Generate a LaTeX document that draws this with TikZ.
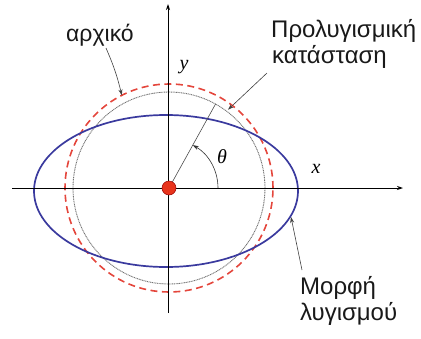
\documentclass[tikz,border=0pt]{standalone}
\usepackage{fontspec}
\setmainfont{Liberation Sans}
\newfontfamily\serifit{Liberation Serif}
\usetikzlibrary{arrows.meta,calc}
\definecolor{redc}{HTML}{E4463C}
\definecolor{bluec}{HTML}{3A3A9E}
\definecolor{dotred}{HTML}{E8341C}
\tikzset{
  axis/.style={line width=0.9pt, -{Stealth[length=6pt,width=4pt]}},
  leader/.style={line width=0.6pt, draw=black!75, -{Stealth[length=6pt,width=4pt]}},
  lbl/.style={font=\fontsize{24}{27}\selectfont, text=black!90, inner sep=0pt, anchor=base west},
  var/.style={font=\serifit\itshape\fontsize{20}{22}\selectfont, inner sep=0pt},
}
\begin{document}
\begin{tikzpicture}[x=1pt,y=1pt]
\useasboundingbox (0,0) rectangle (421,-338);
\coordinate (O) at (169,-188);
% curves
\draw[black!55, line width=0.9pt, dash pattern=on 1pt off 0.7pt] (O) circle[radius=96];
\draw[redc, line width=1.6pt, dash pattern=on 7pt off 4.5pt] (O) circle[radius=104];
\draw[bluec, line width=1.7pt] (166,-191) ellipse[x radius=132, y radius=76];
% axes
\coordinate (xa0) at (12,-188);
\coordinate (xa1) at (403,-188);
\coordinate (ya0) at (168,-313);
\coordinate (ya1) at (168,-4);
\draw[axis] (xa0) -- (xa1);
\draw[axis] (ya0) -- (ya1);
% radius and angle
\coordinate (R) at ($(O)+(61:96)$);
\draw[black!70, line width=0.6pt] (O) -- (R);
\draw[line width=0.6pt, black!80, -{Stealth[length=6pt,width=4pt]}] ($(O)+(49,0)$) arc[start angle=0, end angle=61, radius=49];
% origin dot
\fill[dotred, draw=red!60!black, line width=0.5pt] (O) circle[radius=7];
% labels
\node[var] (xl) at (316,-169) {x};
\node[var] (yl) at (184,-67) {y};
\node[var] (tl) at (222,-157) {θ};
\node[lbl, font=\fontsize{23}{26}\selectfont] (arx) at (66,-41) {αρχικό};
\node[lbl] (pro1) at (271,-37) {Προλυγισμική};
\node[lbl] (pro2) at (272,-63) {κατάσταση};
\node[lbl] (mor1) at (300,-294) {Μορφή};
\node[lbl] (mor2) at (300,-320) {λυγισμού};
% leaders
\coordinate (a1) at ($(O)+(117:104)$);
\coordinate (a2) at ($(O)+(53:98)$);
\coordinate (a3) at (291,-217);
\coordinate (s1) at (106,-48);
\coordinate (s2) at (267,-73);
\coordinate (s3) at (302,-270);
\draw[leader] (s1) to[bend left=5] (a1);
\draw[leader] (s2) -- (a2);
\draw[leader] (s3) -- (a3);
\end{tikzpicture}
\end{document}
